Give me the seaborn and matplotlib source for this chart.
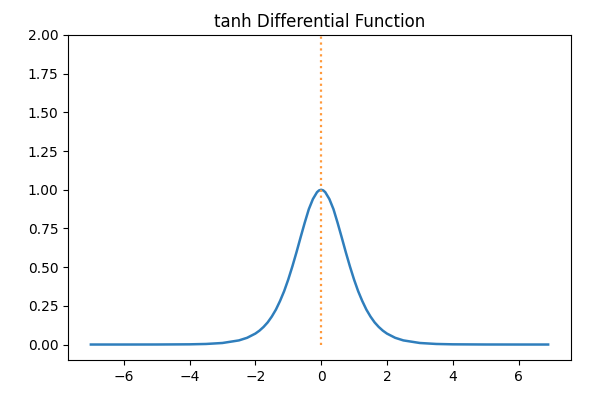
import matplotlib
matplotlib.use("Agg")
import matplotlib.pyplot as plt
import seaborn as sns

# values (derivative of tanh)
x_vals = [-7.0, -6.0, -5.0, -4.0, -3.5, -3.0, -2.5, -2.25, -2.0, -1.875, -1.75, -1.625,
          -1.5, -1.375, -1.25, -1.125, -1.0, -0.875, -0.75, -0.625, -0.5, -0.375, -0.25,
          -0.125, -0.0625, 0.0, 0.0625, 0.125, 0.25, 0.375, 0.5, 0.625, 0.75, 0.875, 1.0,
          1.125, 1.25, 1.375, 1.5, 1.625, 1.75, 1.875, 2.0, 2.25, 2.5, 3.0, 3.5, 4.0,
          5.0, 6.0, 6.9]
y_vals = [0.0000, 0.0000, 0.0002, 0.0013, 0.0036, 0.0099, 0.0266, 0.0435, 0.0707, 0.0897,
          0.1137, 0.1431, 0.1807, 0.2256, 0.2812, 0.3447, 0.4200, 0.5045, 0.5959, 0.6924,
          0.7864, 0.8744, 0.9400, 0.9845, 0.9961, 1.0000, 0.9961, 0.9845, 0.9400, 0.8744,
          0.7864, 0.6924, 0.5959, 0.5045, 0.4200, 0.3447, 0.2812, 0.2256, 0.1807, 0.1431,
          0.1137, 0.0897, 0.0707, 0.0435, 0.0266, 0.0099, 0.0036, 0.0013, 0.0002, 0.0000,
          0.0000]

# vertical marker at x = 0
marker_x = [0.0, 0.0]
marker_y = [0.0, 2.0]

fig = plt.figure(figsize=(6.13, 3.97), dpi=100)
ax = fig.add_axes([68 / 613, 1 - 360 / 397, (571 - 68) / 613, (360 - 35) / 397])

sns.lineplot(x=x_vals, y=y_vals, ax=ax, color="#2f7ebc", linewidth=1.8, estimator=None)
sns.lineplot(x=marker_x, y=marker_y, ax=ax, color="#ff9a3c", linewidth=1.6,
             linestyle=":", estimator=None, sort=False)

ax.set_ylim(-0.1, 2.0)
ax.set_xticks([-6, -4, -2, 0, 2, 4, 6])
ax.set_yticks([0, 0.25, 0.5, 0.75, 1.0, 1.25, 1.5, 1.75, 2.0])
ax.set_yticklabels(["0.00", "0.25", "0.50", "0.75", "1.00", "1.25", "1.50", "1.75", "2.00"])
ax.tick_params(labelsize=10)
ax.set_title("tanh Differential Function", fontsize=12)

fig.savefig("out.png", dpi=100)
